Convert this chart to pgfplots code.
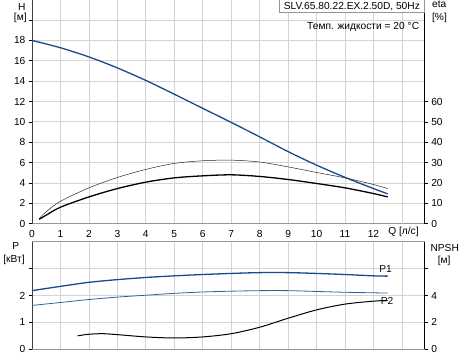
\documentclass[border=0pt]{standalone}
\usepackage{pgfplots}
\pgfplotsset{compat=1.18}
\usepackage{fontspec}
\setmainfont{Liberation Sans}
\definecolor{hblue}{RGB}{22,76,140}
\definecolor{p2blue}{RGB}{50,95,155}
\definecolor{gridc}{RGB}{212,212,212}
\definecolor{axc}{RGB}{150,150,150}
\begin{document}
\fontsize{10.2}{12}\selectfont
\begin{tikzpicture}
\path[use as bounding box] (0pt,0pt) rectangle (464pt,358pt);
\pgfplotsset{
  every axis/.append style={
    scale only axis, width=392.7pt, xmin=0, xmax=13.8,
    /pgf/number format/assume math mode=true,
    tick label style={font=\fontsize{10.2}{12}\selectfont},
    tick align=outside, major tick length=3pt,
    every tick/.style={black, line width=0.6pt},
    grid style={gridc, line width=0.8pt},
  }
}
% ---------- top axis (H) ----------
\begin{axis}[name=top, at={(32pt,134.3pt)}, anchor=south west, height=224pt,
  ymin=0, ymax=22,
  axis x line*=bottom, axis y line*=left,
  x axis line style={axc, line width=0.8pt, -},
  y axis line style={black!75, line width=0.8pt, -},
  xtick={0,...,12},
  extra x ticks={13}, extra x tick labels={},
  extra x tick style={grid=major},
  xtick style={draw=none},
  ytick={0,2,...,20}, yticklabels={0,2,4,6,8,10,12,14,16,18,{}},
  xmajorgrids, ymajorgrids,
  ]
\addplot[hblue, line width=1.3pt, smooth] coordinates {
(0,18) (1,17.28) (2,16.38) (3,15.3) (4,14.07) (5,12.72) (6,11.33) (7,9.95)
(8,8.53) (9,7.08) (10,5.75) (11,4.55) (12,3.45) (12.5,2.93)};
\end{axis}
\begin{axis}[at={(32pt,134.3pt)}, anchor=south west, height=224pt,
  ymin=0, ymax=110,
  axis x line*=bottom, axis y line*=right,
  x axis line style={draw=none}, xtick=\empty,
  y axis line style={black, line width=0.8pt, -},
  ytick={0,10,...,60},
  ]
\addplot[black!85, line width=0.5pt, smooth] coordinates {
(0.25,2.5) (0.5,5.9) (1,11.0) (2,17.6) (3,22.7) (4,26.65) (5,29.6) (6,30.9)
(7,31.2) (8,30.3) (9,27.9) (10,25.15) (11,22.5) (12,19.25) (12.5,17.25)};
\addplot[black, line width=1.3pt, smooth] coordinates {
(0.25,2.15) (0.5,4.2) (1,8.1) (2,13.15) (3,17.25) (4,20.4) (5,22.5) (6,23.5)
(7,24.0) (8,23.2) (9,21.7) (10,19.75) (11,17.6) (12,14.8) (12.5,13.15)};
\end{axis}
% ---------- bottom axis (P) ----------
\begin{axis}[at={(32pt,8.7pt)}, anchor=south west, height=107.6pt,
  ymin=0, ymax=4,
  axis x line*=box, axis y line*=left,
  x axis line style={axc, line width=0.8pt, -},
  y axis line style={black!75, line width=0.8pt, -},
  xtick={0,...,13}, xticklabels={},
  xtick style={draw=none},
  ytick={0,1,2,3}, yticklabels={0,1,2,{}},
  xmajorgrids, ymajorgrids,
  ]
\addplot[hblue, line width=1.3pt, smooth] coordinates {
(0,2.18) (1,2.34) (2,2.49) (3,2.59) (4,2.67) (5,2.73) (6,2.78) (7,2.82)
(8,2.85) (9,2.85) (10,2.82) (11,2.78) (12,2.73) (12.5,2.72)};
\addplot[p2blue, line width=0.8pt, smooth] coordinates {
(0,1.63) (1,1.74) (2,1.85) (3,1.94) (4,2.01) (5,2.08) (6,2.13) (7,2.16)
(8,2.18) (9,2.18) (10,2.15) (11,2.12) (12,2.1) (12.5,2.09)};
\node[anchor=west, inner sep=0pt, text=black!80!hblue] at (axis cs:12.2,3.0) {P1};
\node[anchor=west, inner sep=0pt, text=black!80!hblue] at (axis cs:12.25,1.8) {P2};
\end{axis}
\begin{axis}[at={(32pt,8.7pt)}, anchor=south west, height=107.6pt,
  ymin=0, ymax=8,
  axis x line*=bottom, axis y line*=right,
  x axis line style={draw=none}, xtick=\empty,
  y axis line style={black, line width=0.8pt, -},
  ytick={0,2,4,6}, yticklabels={0,2,4,{}},
  ]
\addplot[black, line width=1.0pt, smooth] coordinates {
(1.6,1.0) (2,1.12) (2.5,1.16) (3,1.09) (4,0.92) (5,0.84) (6,0.92) (7,1.16)
(8,1.64) (9,2.31) (10,2.93) (11,3.36) (12,3.58) (12.5,3.63)};
\end{axis}
% ---------- labels ----------
\node at (21.7pt,351.3pt) {H};
\node at (20.3pt,340pt) {[м]};
\node[anchor=west] at (428.5pt,354pt) {eta};
\node[anchor=west] at (428.5pt,340.5pt) {[\%]};
\node at (15.7pt,112.5pt) {P};
\node at (14pt,98pt) {[кВт]};
\node at (444.7pt,109.7pt) {NPSH};
\node at (444.2pt,97.5pt) {[м]};
\node at (403.5pt,126.5pt) {Q [л/с]};
\draw[axc, fill=white, line width=0.6pt] (279pt,358.5pt) rectangle (424pt,345.3pt);
\node[anchor=east] at (423.5pt,351.8pt) {SLV.65.80.22.EX.2.50D, 50Hz};
\node[anchor=east, inner sep=0pt] at (419.3pt,331.3pt) {Темп. жидкости = 20 °C};
\end{tikzpicture}
\end{document}
